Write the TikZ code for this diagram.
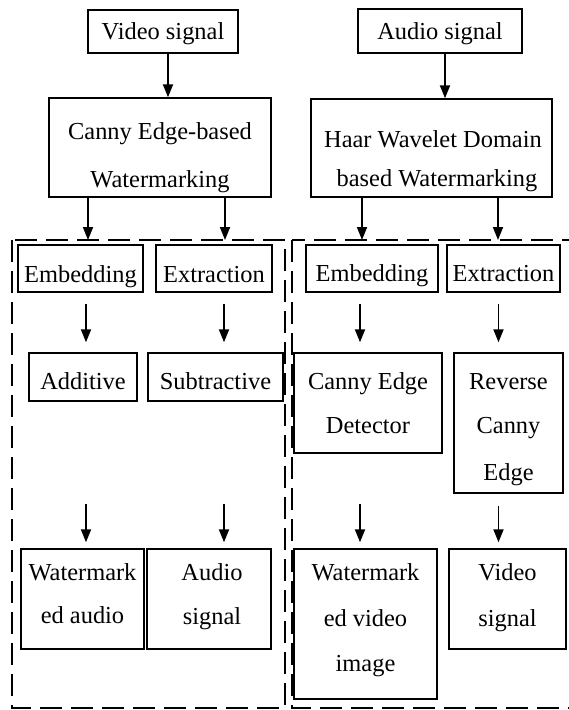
\documentclass[tikz,border=0pt]{standalone}
\usepackage{fontspec}
\setmainfont{Liberation Serif}
\usetikzlibrary{arrows.meta}
\begin{document}
\begin{tikzpicture}[x=1bp,y=-1bp,
 box/.style={draw, line width=1.4bp, inner sep=0pt},
 txt/.style={inner sep=0pt, anchor=base, font=\fontsize{24.5}{24.5}\selectfont},
 arr/.style={line width=1.8bp, -{Triangle[length=13bp,width=10bp]}},
 frame/.style={line width=2.6bp, dash pattern=on 22bp off 9bp}]
\useasboundingbox (0,0) rectangle (569,710);
% frames
\coordinate (fLtl) at (12,240); \coordinate (fLbr) at (285,708);
\coordinate (fRtl) at (292,240); \coordinate (fRbr) at (590,708);
\draw[frame] (fLtl) rectangle (fLbr);
\draw[frame] (fRtl) rectangle (fRbr);
% arrow x positions
\coordinate (xv) at (168,0); \coordinate (xa) at (445,0);
\coordinate (xc1) at (88,0); \coordinate (xc2) at (225,0);
\coordinate (xh1) at (362,0); \coordinate (xh2) at (498,0);
\coordinate (xl1) at (86,0); \coordinate (xl2) at (224,0);
\coordinate (xr1) at (360,0); \coordinate (xr2) at (498.5,0);
% top boxes
\node[box, minimum width=150bp, minimum height=43bp] (vsig) at (163,31.5) {};
\node[txt] (vsigT) at (163,40) {Video signal};
\node[box, minimum width=164bp, minimum height=44bp] (asig) at (440,31) {};
\node[txt] (asigT) at (440,40) {Audio signal};
\node[box, minimum width=222bp, minimum height=99bp] (canny) at (160,147.5) {};
\node[txt] (cannyT1) at (160,140) {Canny Edge-based};
\node[txt] (cannyT2) at (160,187) {Watermarking};
\node[box, minimum width=241bp, minimum height=98bp] (haar) at (431.5,148) {};
\node[txt] (haarT1) at (433,147) {Haar Wavelet Domain};
\node[txt] (haarT2) at (437,186) {based Watermarking};
% second row
\node[box, minimum width=125bp, minimum height=47bp] (lemb) at (80.5,268.5) {};
\node[txt] (lembT) at (80.5,282) {Embedding};
\node[box, minimum width=116bp, minimum height=47bp] (lext) at (214,268.5) {};
\node[txt] (lextT) at (214,282) {Extraction};
\node[box, minimum width=132bp, minimum height=47bp] (remb) at (372,268.5) {};
\node[txt] (rembT) at (372,281) {Embedding};
\node[box, minimum width=113bp, minimum height=47bp] (rext) at (503.5,268.5) {};
\node[txt] (rextT) at (503.5,281.5) {Extraction};
% third row
\node[box, minimum width=108bp, minimum height=48bp] (add) at (83,377) {};
\node[txt] (addT) at (83,389) {Additive};
\node[box, minimum width=135bp, minimum height=48bp] (sub) at (215.5,377) {};
\node[txt] (subT) at (215.5,389) {Subtractive};
\node[box, minimum width=148bp, minimum height=100bp] (ced) at (368,403) {};
\node[txt] (cedT1) at (368,389) {Canny Edge};
\node[txt] (cedT2) at (368,433) {Detector};
\node[box, minimum width=109bp, minimum height=140bp] (rce) at (508.5,423) {};
\node[txt] (rceT1) at (508.5,389) {Reverse};
\node[txt] (rceT2) at (508.5,433) {Canny};
\node[txt] (rceT3) at (508.5,480) {Edge};
% bottom row
\node[box, minimum width=123bp, minimum height=100bp] (wma) at (82.5,599) {};
\node[txt] (wmaT1) at (82.5,580) {Watermark};
\node[txt] (wmaT2) at (82.5,623) {ed audio};
\node[box, minimum width=124bp, minimum height=100bp] (aout) at (209,599) {};
\node[txt] (aoutT1) at (212,580) {Audio};
\node[txt] (aoutT2) at (212,624) {signal};
\node[box, minimum width=143bp, minimum height=150bp] (wmv) at (365.5,624) {};
\node[txt] (wmvT1) at (365.5,580) {Watermark};
\node[txt] (wmvT2) at (365.5,626) {ed video};
\node[txt] (wmvT3) at (365.5,671) {image};
\node[box, minimum width=117bp, minimum height=100bp] (vout) at (507.5,599) {};
\node[txt] (voutT1) at (507.5,580) {Video};
\node[txt] (voutT2) at (507.5,626) {signal};
% arrows
\draw[arr] (vsig.south -| xv) -- (canny.north -| xv);
\draw[arr] (asig.south -| xa) -- (haar.north -| xa);
\draw[arr] (canny.south -| xc1) -- (fLtl -| xc1);
\draw[arr] (canny.south -| xc2) -- (fLtl -| xc2);
\draw[arr] (haar.south -| xh1) -- (fRtl -| xh1);
\draw[arr] (haar.south -| xh2) -- (fRtl -| xh2);
\draw[arr, shorten <=11bp, shorten >=10bp] (lemb.south -| xl1) -- (add.north -| xl1);
\draw[arr, shorten <=11bp, shorten >=10bp] (lext.south -| xl2) -- (sub.north -| xl2);
\draw[arr, shorten <=11bp, shorten >=10bp] (remb.south -| xr1) -- (ced.north -| xr1);
\draw[arr, shorten <=11bp, shorten >=10bp] (rext.south -| xr2) -- (rce.north -| xr2);
\draw[arr, shorten <=102bp, shorten >=6bp] (add.south -| xl1) -- (wma.north -| xl1);
\draw[arr, shorten <=102bp, shorten >=6bp] (sub.south -| xl2) -- (aout.north -| xl2);
\draw[arr, shorten <=50bp, shorten >=6bp] (ced.south -| xr1) -- (wmv.north -| xr1);
\draw[arr, shorten <=12bp, shorten >=6bp] (rce.south -| xr2) -- (vout.north -| xr2);
\end{tikzpicture}
\end{document}
